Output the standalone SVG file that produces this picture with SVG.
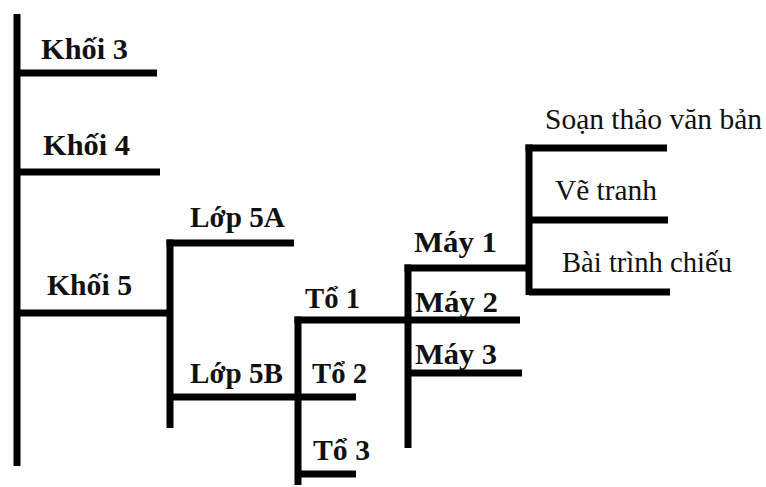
<svg xmlns="http://www.w3.org/2000/svg" width="766" height="487" viewBox="0 0 766 487">
<style>
.l{stroke:#000;stroke-width:7;fill:none;stroke-linecap:butt}
text{font-family:'Liberation Serif','Times New Roman','DejaVu Serif',serif;font-size:29px;fill:#111}
.b{font-weight:bold}
</style>
<rect width="766" height="487" fill="#fff"/>
<g id="connectors">
<line class="l" x1="17" y1="14" x2="17" y2="466"/>
<line class="l" x1="17" y1="73" x2="157" y2="73"/>
<line class="l" x1="17" y1="172" x2="160" y2="172"/>
<line class="l" x1="17" y1="313" x2="170" y2="313"/>
<line class="l" x1="170" y1="239.5" x2="170" y2="428"/>
<line class="l" x1="166.5" y1="243" x2="294" y2="243"/>
<line class="l" x1="170" y1="397" x2="356" y2="397"/>
<line class="l" x1="298" y1="316.5" x2="298" y2="485"/>
<line class="l" x1="294.5" y1="320" x2="520" y2="320"/>
<line class="l" x1="298" y1="474" x2="356" y2="474"/>
<line class="l" x1="408" y1="264.5" x2="408" y2="448"/>
<line class="l" x1="404.5" y1="268" x2="529" y2="268"/>
<line class="l" x1="408" y1="373" x2="522" y2="373"/>
<line class="l" x1="529" y1="144.5" x2="529" y2="295"/>
<line class="l" x1="525.5" y1="148" x2="667" y2="148"/>
<line class="l" x1="529" y1="220" x2="668" y2="220"/>
<line class="l" x1="529" y1="292" x2="670" y2="292"/>
</g>
<g id="khoi3"><text class="b" x="41" y="59" textLength="87" lengthAdjust="spacingAndGlyphs">Khối 3</text></g>
<g id="khoi4"><text class="b" x="43" y="155" textLength="87" lengthAdjust="spacingAndGlyphs">Khối 4</text></g>
<g id="khoi5"><text class="b" x="47" y="295" textLength="85" lengthAdjust="spacingAndGlyphs">Khối 5</text></g>
<g id="lop5a"><text class="b" x="190" y="227" textLength="95" lengthAdjust="spacingAndGlyphs">Lớp 5A</text></g>
<g id="lop5b"><text class="b" x="190" y="383" textLength="93" lengthAdjust="spacingAndGlyphs">Lớp 5B</text></g>
<g id="to1"><text class="b" x="305" y="308" textLength="55" lengthAdjust="spacingAndGlyphs">Tổ 1</text></g>
<g id="to2"><text class="b" x="312" y="383" textLength="55" lengthAdjust="spacingAndGlyphs">Tổ 2</text></g>
<g id="to3"><text class="b" x="313" y="460" textLength="57" lengthAdjust="spacingAndGlyphs">Tổ 3</text></g>
<g id="may1"><text class="b" x="414" y="252" textLength="83" lengthAdjust="spacingAndGlyphs">Máy 1</text></g>
<g id="may2"><text class="b" x="415" y="312" textLength="83" lengthAdjust="spacingAndGlyphs">Máy 2</text></g>
<g id="may3"><text class="b" x="415" y="364" textLength="82" lengthAdjust="spacingAndGlyphs">Máy 3</text></g>
<g id="soan"><text x="545" y="129" textLength="217" lengthAdjust="spacingAndGlyphs">Soạn thảo văn bản</text></g>
<g id="ve"><text x="555" y="200" textLength="102" lengthAdjust="spacingAndGlyphs">Vẽ tranh</text></g>
<g id="bai"><text x="562" y="272" textLength="170" lengthAdjust="spacingAndGlyphs">Bài trình chiếu</text></g>
</svg>
